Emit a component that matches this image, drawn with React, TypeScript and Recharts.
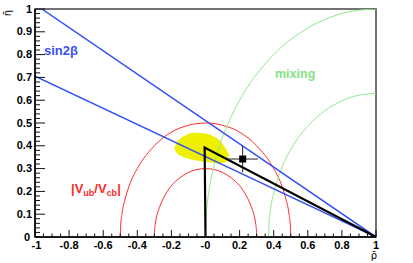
import React from "react";
import {
  ComposedChart,
  Line,
  Area,
  Scatter,
  XAxis,
  YAxis,
  ErrorBar,
  ReferenceArea,
} from "recharts";

type Pt = [number, number];

// sin2beta constraints (two straight lines through rho=1)
const sin2bUpper: Pt[] = [[-0.96, 1], [1, 0]];
const sin2bLower: Pt[] = [[-1, 0.705], [1, 0]];

// |Vub/Vcb| circles around the origin
const vubOuter: Pt[] = [
  [-0.5, 0], [-0.498, 0.045], [-0.49, 0.1], [-0.47, 0.17], [-0.45, 0.22], [-0.4, 0.3],
  [-0.3, 0.4], [-0.2, 0.46], [-0.1, 0.49], [0, 0.5], [0.1, 0.49], [0.2, 0.46],
  [0.3, 0.4], [0.4, 0.3], [0.45, 0.22], [0.47, 0.17], [0.49, 0.1], [0.498, 0.045], [0.5, 0],
];
const vubInner: Pt[] = [
  [-0.3, 0], [-0.299, 0.025], [-0.295, 0.055], [-0.285, 0.095], [-0.27, 0.13], [-0.24, 0.18],
  [-0.2, 0.225], [-0.15, 0.26], [-0.1, 0.283], [-0.05, 0.296], [0, 0.3], [0.05, 0.296],
  [0.1, 0.283], [0.15, 0.26], [0.2, 0.225], [0.24, 0.18], [0.27, 0.13], [0.285, 0.095],
  [0.295, 0.055], [0.299, 0.025], [0.3, 0],
];

// mixing circles around (1, 0)
const mixOuter: Pt[] = [
  [0, 0], [0.002, 0.06], [0.005, 0.1], [0.02, 0.2], [0.046, 0.3], [0.083, 0.4], [0.134, 0.5],
  [0.2, 0.6], [0.286, 0.7], [0.4, 0.8], [0.48, 0.855], [0.564, 0.9], [0.7, 0.954],
  [0.85, 0.989], [1, 1],
];
const mixInner: Pt[] = [
  [0.37, 0], [0.372, 0.05], [0.378, 0.1], [0.403, 0.2], [0.446, 0.3], [0.513, 0.4],
  [0.617, 0.5], [0.693, 0.55], [0.75, 0.578], [0.808, 0.6], [0.9, 0.622], [1, 0.63],
];

// fitted triangle
const triangle: Pt[] = [[0, 0], [-0.005, 0.392], [1, 0]];

// yellow allowed region: rho, lower eta, upper eta
const blob: [number, number, number][] = [
  [-0.178, 0.386, 0.388], [-0.16, 0.368, 0.415], [-0.12, 0.353, 0.44], [-0.07, 0.342, 0.453],
  [-0.02, 0.336, 0.452], [0.03, 0.331, 0.443], [0.08, 0.327, 0.42], [0.11, 0.33, 0.39],
  [0.135, 0.35, 0.355],
];

// measured point with errors
const measured = [{ x: 0.218, y: 0.342, ex: [0.085, 0.09], ey: 0.058 }];

const xLabelTicks = [-1, -0.8, -0.6, -0.4, -0.2, 0, 0.2, 0.4, 0.6, 0.8, 1];
const yLabelTicks = [0, 0.1, 0.2, 0.3, 0.4, 0.5, 0.6, 0.7, 0.8, 0.9, 1];

const xTicks = Array.from({ length: 41 }, (_, i) => Math.round((-1 + i * 0.05) * 100) / 100);
const yTicks = Array.from({ length: 51 }, (_, i) => Math.round(i * 0.02 * 100) / 100);

const toXY = (pts: Pt[]) => pts.map(([x, y]) => ({ x, y }));
const blobData = blob.map(([x, lo, hi]) => ({ x, r: [lo, hi] }));

const font = "'Liberation Sans', Arial, Helvetica, sans-serif";
const isLabel = (list: number[], v: number) => list.some((t) => Math.abs(t - v) < 1e-6);

function RhoTick(props: any) {
  const { x, y, payload } = props;
  const v = payload.value as number;
  const major = isLabel(xLabelTicks, v);
  const text = Math.abs(v) < 1e-9 ? "-0" : String(v);
  // nudge the corner label so it clears the eta "0"
  const tx = v === -1 ? x + 1.5 : x;
  return (
    <g>
      <line x1={x} x2={x} y1={y} y2={y - (major ? 7 : 3.5)} stroke="#111" strokeWidth={1} />
      {major && (
        <text x={tx} y={y + 11.5} textAnchor="middle" fontFamily={font} fontWeight="bold" fontSize={11} fill="#000">
          {text}
        </text>
      )}
    </g>
  );
}

function EtaTick(props: any) {
  const { x, y, payload } = props;
  const v = payload.value as number;
  const major = isLabel(yLabelTicks, v);
  const tx = v === 0 ? x - 5 : x - 3;
  return (
    <g>
      <line x1={x} x2={x + (major ? 10 : 5)} y1={y} y2={y} stroke="#111" strokeWidth={1} />
      {major && (
        <text x={tx} y={y + 3.5} textAnchor="end" fontFamily={font} fontWeight="bold" fontSize={11} fill="#000">
          {String(v)}
        </text>
      )}
    </g>
  );
}

const BLUE = "#3050f5";
const RED = "#ff2a2a";
const GREEN = "#8fe88f";

export default function App() {
  return (
    <div style={{ position: "absolute", left: 0, top: 0, width: 413, height: 263, background: "#fff" }}>
      <ComposedChart width={413} height={263} margin={{ top: 9, right: 37, left: 0, bottom: 0 }}>
        <XAxis
          type="number"
          dataKey="x"
          domain={[-1, 1]}
          ticks={xTicks}
          interval={0}
          allowDataOverflow
          tickSize={0}
          tickMargin={0}
          height={26}
          tick={RhoTick}
          axisLine={{ stroke: "#000", strokeWidth: 1.5 }}
        />
        <YAxis
          type="number"
          dataKey="y"
          domain={[0, 1]}
          ticks={yTicks}
          interval={0}
          allowDataOverflow
          tickSize={0}
          tickMargin={0}
          width={35}
          tick={EtaTick}
          axisLine={{ stroke: "#000", strokeWidth: 1.5 }}
        />
        <ReferenceArea x1={-1} x2={1} y1={0} y2={1} fill="none" stroke="#444" strokeWidth={1.5} />
        <Area
          data={blobData}
          dataKey="r"
          type="monotone"
          fill="#eef000"
          fillOpacity={1}
          stroke="#eef000"
          strokeWidth={2}
          isAnimationActive={false}
          activeDot={false}
        />
        <Line data={toXY(vubOuter)} dataKey="y" type="monotone" stroke={RED} strokeWidth={1} dot={false} activeDot={false} isAnimationActive={false} />
        <Line data={toXY(vubInner)} dataKey="y" type="monotone" stroke={RED} strokeWidth={1} dot={false} activeDot={false} isAnimationActive={false} />
        <Line data={toXY(mixOuter)} dataKey="y" type="monotone" stroke={GREEN} strokeWidth={1} dot={false} activeDot={false} isAnimationActive={false} />
        <Line data={toXY(mixInner)} dataKey="y" type="monotone" stroke={GREEN} strokeWidth={1} dot={false} activeDot={false} isAnimationActive={false} />
        <Line data={toXY(sin2bUpper)} dataKey="y" type="linear" stroke={BLUE} strokeWidth={1.5} dot={false} activeDot={false} isAnimationActive={false} />
        <Line data={toXY(sin2bLower)} dataKey="y" type="linear" stroke={BLUE} strokeWidth={1.5} dot={false} activeDot={false} isAnimationActive={false} />
        <Line data={toXY(triangle)} dataKey="y" type="linear" stroke="#000" strokeWidth={2.2} dot={false} activeDot={false} isAnimationActive={false} />
        <Scatter
          data={measured}
          dataKey="y"
          isAnimationActive={false}
          shape={(p: any) => <rect x={p.cx - 3.5} y={p.cy - 3.5} width={7} height={7} fill="#000" />}
        >
          <ErrorBar dataKey="ex" direction="x" width={0} stroke="#222" strokeWidth={1} />
          <ErrorBar dataKey="ey" direction="y" width={0} stroke="#222" strokeWidth={1} />
        </Scatter>
      </ComposedChart>
      <svg width={413} height={263} style={{ position: "absolute", left: 0, top: 0, pointerEvents: "none" }}>
        <text x={44} y={55} fontFamily={font} fontWeight="bold" fontSize={13} fill="#3a4ff0">
          sin2β
        </text>
        <text x={275} y={78} fontFamily={font} fontWeight="bold" fontSize={12.5} fill="#86e286">
          mixing
        </text>
        <text x={71} y={193} fontFamily={font} fontWeight="bold" fontSize={13} fill={RED}>
          |V
          <tspan fontSize={9} dy={3}>ub</tspan>
          <tspan dy={-3}>/V</tspan>
          <tspan fontSize={9} dy={3}>cb</tspan>
          <tspan dy={-3}>|</tspan>
        </text>
        <text
          transform="translate(11,13) rotate(-90)"
          textAnchor="middle"
          fontFamily="'DejaVu Sans', sans-serif"
          fontSize={10}
          fill="#000"
        >
          {"\u03B7\u0304"}
        </text>
        <text x={374} y={259} textAnchor="middle" fontFamily="'DejaVu Sans', sans-serif" fontSize={10} fill="#000">
          {"\u03C1\u0304"}
        </text>
      </svg>
    </div>
  );
}
